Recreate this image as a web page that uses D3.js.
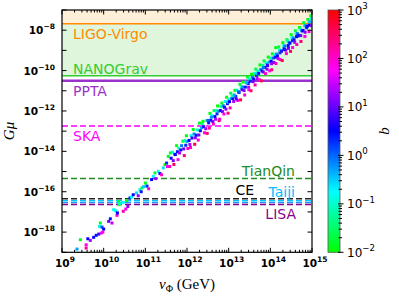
<!DOCTYPE html>
<html>
<head>
<meta charset="utf-8">
<script src="https://cdn.jsdelivr.net/npm/d3@7"></script>
<style>
  body { margin: 0; background: #fff; }
  svg { display: block; }
  text { font-family: "DejaVu Sans", sans-serif; }
</style>
</head>
<body>
<svg id="chart" width="399" height="299"></svg>
<script>
// tick exponents
const xExponents = [9, 10, 11, 12, 13, 14, 15];
const yExponents = [-18, -16, -14, -12, -10, -8];
const cbExponents = [-2, -1, 0, 1, 2, 3];

// detector sensitivities (G mu)
const detectorNames = ["LIGO-Virgo", "NANOGrav", "PPTA", "SKA", "TianQin", "CE", "Taiji", "Taiji", "LISA"];
const detectorGmu = [2.1e-8, 5.5e-11, 3.1e-11, 1.8e-13, 4.5e-16, 4.5e-17, 3.6e-17, 2.9e-17, 2.3e-17];

// scan points: [log10 v_Phi, log10 G mu, log10 b]
const points = [
  [9.36,-18.84,-0.3],[9.44,-18.38,-1.9],[9.58,-18.63,1.9],[9.58,-18.79,2.1],[9.62,-18.33,0.5],
  [9.68,-18.41,1.3],[9.76,-18.26,0.6],[9.82,-18.16,0.4],[9.88,-18.10,0.8],[9.90,-17.72,-0.9],
  [9.92,-17.55,-1.8],[9.96,-17.75,0.2],[9.98,-18.00,2.0],[9.94,-18.05,1.7],[10.00,-17.85,0.5],
  [10.12,-17.47,1.1],[10.16,-17.34,0.4],[10.20,-17.55,1.4],[10.24,-16.89,-0.8],[10.32,-17.17,1.9],
  [10.36,-16.48,-1.9],[10.29,-16.95,-0.9],[10.33,-17.05,0.6],[10.47,-16.97,2.2],[10.53,-16.86,1.8],
  [10.58,-16.73,1.2],[10.37,-16.64,-1.7],[10.39,-16.58,-1.0],[10.47,-16.53,-0.7],[10.55,-16.43,-1.9],
  [10.63,-16.31,0.3],[10.67,-16.26,-0.8],[10.71,-16.15,0.5],[10.79,-16.06,-0.6],[10.83,-16.20,1.3],
  [10.87,-15.90,-0.9],[10.90,-16.00,0.4],[10.92,-15.81,-1.8],[10.96,-15.75,-0.5],[11.00,-15.57,-1.9],
  [11.04,-15.72,0.3],[11.08,-15.85,1.9],[11.15,-15.40,0.5],[11.19,-15.24,-0.7],[11.23,-15.07,-1.8],
  [11.25,-15.35,1.3],[11.31,-14.99,-0.8],[11.35,-15.10,0.4],[11.39,-15.16,2.0],[11.43,-14.82,-0.6],
  [11.47,-14.66,-1.9],[11.51,-14.58,0.3],[11.53,-14.75,1.8],[11.55,-14.25,-1.8],
  [11.60,-14.08,-1.8],[11.62,-14.34,0.6],[11.585,-14.75,2.0],[11.65,-14.05,-0.9],[11.67,-14.46,1.1],
  [11.70,-14.14,-0.3],[11.72,-14.16,0.5],[11.685,-14.65,2.6],[11.75,-13.72,-1.9],[11.77,-14.02,0.4],
  [11.80,-13.84,-1.0],[11.82,-14.08,1.3],[11.785,-14.41,1.8],[11.85,-13.93,0.6],[11.87,-13.72,-0.1],
  [11.90,-13.50,-1.7],[11.92,-13.88,1.0],[11.95,-13.47,-1.1],[11.97,-13.70,0.3],[11.935,-14.21,2.4],
  [12.00,-13.52,-0.4],[12.02,-13.86,2.1],[11.985,-13.23,-2.0],[12.05,-13.46,0.5],[12.07,-13.66,1.4],
  [12.10,-13.22,-0.8],[12.12,-13.34,0.7],[12.085,-13.81,1.9],[12.15,-12.92,-1.9],[12.17,-13.14,-0.2],
  [12.20,-13.33,1.2],[12.22,-13.20,0.4],[12.185,-13.65,2.7],[12.25,-12.94,-1.0],[12.27,-13.44,2.0],
  [12.30,-12.60,-1.8],[12.32,-12.98,0.5],[12.285,-13.19,1.1],[12.35,-12.83,-0.3],[12.37,-12.64,-1.2],
  [12.40,-12.78,0.6],[12.42,-13.08,1.8],[12.385,-12.51,-2.0],[12.45,-12.88,1.3],[12.47,-12.48,-0.9],
  [12.50,-12.47,0.0],[12.52,-12.59,0.4],[12.485,-13.11,2.5],[12.55,-12.12,-1.9],[12.57,-12.46,0.7],
  [12.535,-12.85,2.2],[12.60,-12.24,-0.7],[12.62,-12.53,1.0],[12.585,-12.31,-0.2],
  [12.65,-11.98,-1.7],[12.67,-12.28,0.5],[12.635,-12.65,1.9],[12.70,-11.97,-1.0],[12.72,-12.14,0.3],
  [12.685,-12.41,1.4],[12.75,-12.02,-0.3],[12.77,-12.48,2.6],[12.735,-11.75,-2.0],[12.80,-11.98,0.6],
  [12.82,-11.79,-1.1],[12.785,-12.41,2.0],[12.85,-12.03,1.1],[12.87,-11.74,-0.1],[12.835,-11.61,-1.8],
  [12.90,-11.82,0.4],[12.92,-11.53,-0.8],[12.885,-12.15,1.8],[12.95,-11.32,-1.9],[12.97,-11.64,0.7],
  [12.935,-11.91,1.2],[12.98,-11.56,-0.4],[13.00,-11.42,-1.0],[13.02,-11.54,0.5],[12.985,-12.11,2.4],
  [13.05,-11.12,-1.7],[13.07,-11.38,-0.2],[13.035,-11.85,2.1],[13.10,-11.38,0.6],[13.12,-11.53,1.3],
  [13.085,-11.26,-1.2],[13.15,-10.98,-2.0],[13.17,-11.28,0.3],[13.135,-11.21,-0.3],[13.20,-10.97,-0.9],
  [13.22,-11.48,1.9],[13.185,-11.41,1.0],[13.25,-11.08,0.5],[13.27,-10.68,-1.8],[13.235,-11.05,0.0],
  [13.30,-10.83,-1.0],[13.32,-10.94,0.8],[13.285,-11.45,2.7],[13.35,-10.57,-1.9],[13.37,-10.99,1.2],
  [13.335,-10.81,-0.2],[13.40,-10.82,0.4],[13.42,-10.58,-0.8],[13.385,-11.21,2.0],[13.45,-10.32,-1.8],
  [13.47,-10.64,0.6],[13.435,-10.61,-0.3],[13.48,-10.82,1.4],[13.50,-10.42,-1.1],[13.52,-10.53,0.3],
  [13.485,-10.95,1.8],[13.55,-10.18,-2.0],[13.57,-10.33,-0.1],[13.535,-11.00,2.5],[13.60,-10.42,0.5],
  [13.62,-10.14,-0.9],[13.585,-10.55,1.1],[13.65,-9.93,-1.7],[13.67,-10.24,0.7],[13.635,-10.71,2.2],
  [13.68,-10.16,-0.4],[13.70,-10.03,-1.0],[13.72,-10.14,0.4],[13.685,-10.40,1.3],[13.75,-9.72,-1.9],
  [13.77,-9.94,-0.2],[13.735,-10.45,1.9],[13.80,-10.02,0.5],[13.82,-9.74,-1.2],[13.785,-10.51,2.6],
  [13.83,-10.07,1.0],[13.85,-9.52,-1.8],[13.87,-9.84,0.6],[13.835,-9.85,-0.1],[13.90,-9.63,-0.9],
  [13.92,-9.93,1.2],[13.885,-10.15,2.0],[13.93,-9.72,0.3],[13.95,-9.33,-2.0],[13.97,-9.58,-0.3],
  [13.935,-9.75,0.8],[14.00,-9.38,-1.1],[14.02,-9.54,0.5],[13.985,-10.01,1.8],[14.03,-9.66,1.3],
  [14.05,-9.17,-1.8],[14.07,-9.38,0.0],[14.035,-9.96,2.4],[14.10,-9.22,-0.8],[14.12,-9.34,0.4],
  [14.085,-9.60,1.1],[14.13,-8.86,-1.9],[14.15,-9.18,-0.2],[14.17,-9.28,0.6],[14.135,-9.65,2.1],
  [14.20,-8.83,-1.7],[14.22,-8.98,-1.0],[14.185,-9.40,1.4],[14.23,-9.12,0.3],[14.25,-9.03,-0.4],
  [14.27,-9.04,0.7],[14.235,-9.45,1.9],[14.30,-8.62,-2.0],[14.32,-8.78,-0.9],[14.285,-9.50,2.6],
  [14.33,-8.92,0.5],[14.35,-8.78,-0.1],[14.37,-8.99,1.2],[14.335,-8.95,0.4],[14.40,-8.47,-1.8],
  [14.42,-8.54,-1.1],[14.385,-9.16,2.0],[14.43,-8.76,0.6],[14.45,-8.62,-0.3],[14.47,-8.64,0.5],
  [14.435,-8.90,1.0],[14.50,-8.22,-1.9],[14.52,-8.38,-0.8],[14.485,-9.05,2.5],[14.53,-8.52,0.3],
  [14.55,-8.38,-0.2],[14.57,-8.48,0.7],[14.535,-8.86,1.8],[14.60,-8.03,-1.7],[14.62,-8.18,-1.0],
  [14.585,-8.60,1.3],[14.63,-8.32,0.5],[14.65,-8.17,-0.1],[14.67,-8.28,0.6],[14.635,-8.71,2.1],
  [14.70,-7.87,-2.0],[14.72,-7.94,-0.9],[14.685,-8.25,0.4],[14.73,-8.27,1.1],[14.75,-8.02,-0.3],
  [14.77,-8.04,0.8],[14.735,-8.56,2.4],[14.80,-7.63,-1.8],[14.82,-7.78,-1.1],[14.785,-8.01,0.5],
  [14.83,-8.31,1.9],[14.85,-7.78,-0.2],[14.87,-7.88,0.3],[14.835,-8.10,1.2],[14.90,-7.47,-1.9],
  [14.92,-7.58,-0.8],[14.885,-7.81,0.6],[14.93,-8.07,2.0],[14.95,-7.58,-0.4],[14.97,-7.28,-1.7],
  [14.935,-7.75,0.5],[14.98,-7.42,-1.0],[14.99,-7.78,1.3]
];

const plot = {left: 62, right: 312, top: 10, bottom: 252.3};
const svg = d3.select("#chart");

const xScale = d3.scaleLog().domain([1e9, 1e15]).range([plot.left, plot.right]);
const yScale = d3.scaleLog().domain([1e-19, 1e-7]).range([plot.bottom, plot.top]);

// colour map: green -> cyan -> blue -> magenta -> red
const cmap = f => d3.hsl(120 + 240 * Math.max(0, Math.min(1, f)), 1, 0.5).toString();
const bColor = lb => cmap((lb + 2) / 5);

svg.append("clipPath").attr("id", "clip")
  .append("rect")
  .attr("x", plot.left).attr("y", plot.top)
  .attr("width", plot.right - plot.left).attr("height", plot.bottom - plot.top);

const g = svg.append("g").attr("clip-path", "url(#clip)");

// shaded excluded regions
const yLigo = yScale(detectorGmu[0]), yNano = yScale(detectorGmu[1]);
g.append("rect")
  .attr("x", plot.left).attr("y", plot.top)
  .attr("width", plot.right - plot.left).attr("height", yLigo - plot.top)
  .attr("fill", "#fdefd8");
g.append("rect")
  .attr("x", plot.left).attr("y", yLigo)
  .attr("width", plot.right - plot.left).attr("height", yNano - yLigo)
  .attr("fill", "#dff5dc");

// detector lines
const lineStyle = [
  {color: "#ff8c00", width: 1.5, dash: null},
  {color: "#32cd32", width: 1.5, dash: null},
  {color: "#9932cc", width: 2.5, dash: null},
  {color: "#ff00ff", width: 1.5, dash: "6,3"},
  {color: "#228b22", width: 1.5, dash: "6,3"},
  {color: "#222222", width: 1.5, dash: "6,3"},
  {color: "#00bfff", width: 1.5, dash: "6,3"},
  {color: "#1e90ff", width: 1.2, dash: "6,3"},
  {color: "#8b008b", width: 1.5, dash: "6,3"}
];
detectorGmu.forEach((v, i) => {
  const s = lineStyle[i];
  g.append("line")
    .attr("x1", plot.left).attr("x2", plot.right)
    .attr("y1", yScale(v)).attr("y2", yScale(v))
    .attr("stroke", s.color).attr("stroke-width", s.width)
    .attr("stroke-dasharray", s.dash);
});

// scatter
g.selectAll("rect.pt")
  .data(points)
  .enter().append("rect")
  .attr("class", "pt")
  .attr("x", d => xScale(Math.pow(10, d[0])) - 1.5)
  .attr("y", d => yScale(Math.pow(10, d[1])) - 1.5)
  .attr("width", 3).attr("height", 3)
  .attr("fill", d => bColor(d[2]));

// detector labels
const labels = [
  {i: 0, x: 73, dy: 15.2, anchor: "start"},
  {i: 1, x: 73, dy: -1.8, anchor: "start"},
  {i: 2, x: 73, dy: 14.8, anchor: "start"},
  {i: 3, x: 73, dy: 14.8, anchor: "start"},
  {i: 4, x: 295, dy: -2.8, anchor: "end"},
  {i: 5, x: 254, dy: -4, anchor: "end"},
  {i: 6, x: 295, dy: -4, anchor: "end"},
  {i: 8, x: 296, dy: 14.5, anchor: "end"}
];
labels.forEach(l => {
  svg.append("text")
    .attr("x", l.x).attr("y", yScale(detectorGmu[l.i]) + l.dy)
    .attr("text-anchor", l.anchor)
    .attr("font-size", 14)
    .attr("fill", l.i === 5 ? "#000" : lineStyle[l.i].color)
    .text(detectorNames[l.i]);
});

// superscript power-of-ten label
function powText(sel, e, size) {
  sel.append("tspan").text("10");
  sel.append("tspan").attr("dy", -size * 0.45).attr("font-size", size * 0.72)
    .text(e < 0 ? "\u2212" + (-e) : e);
}

// axes frame and ticks
const ax = svg.append("g").attr("stroke", "#000");
for (let e = 9; e <= 15; e++) {
  const x = xScale(Math.pow(10, e));
  ax.append("line").attr("x1", x).attr("x2", x).attr("y1", plot.bottom).attr("y2", plot.bottom - 4.5);
  ax.append("line").attr("x1", x).attr("x2", x).attr("y1", plot.top).attr("y2", plot.top + 4.5);
  if (e < 15) for (let k = 2; k <= 9; k++) {
    const xm = xScale(k * Math.pow(10, e));
    ax.append("line").attr("x1", xm).attr("x2", xm).attr("y1", plot.bottom).attr("y2", plot.bottom - 2.5);
    ax.append("line").attr("x1", xm).attr("x2", xm).attr("y1", plot.top).attr("y2", plot.top + 2.5);
  }
}
for (let e = -19; e <= -7; e++) {
  const y = yScale(Math.pow(10, e));
  ax.append("line").attr("x1", plot.left).attr("x2", plot.left + 4.5).attr("y1", y).attr("y2", y);
  ax.append("line").attr("x1", plot.right).attr("x2", plot.right - 4.5).attr("y1", y).attr("y2", y);
}
svg.append("rect")
  .attr("x", plot.left).attr("y", plot.top)
  .attr("width", plot.right - plot.left).attr("height", plot.bottom - plot.top)
  .attr("fill", "none").attr("stroke", "#000").attr("stroke-width", 1.2);

xExponents.forEach(e => {
  const t = svg.append("text")
    .attr("x", xScale(Math.pow(10, e)) + 3).attr("y", 266.5)
    .attr("text-anchor", "middle").attr("font-size", 10.5).attr("font-weight", "bold");
  powText(t, e, 10.5);
});
yExponents.forEach(e => {
  const t = svg.append("text")
    .attr("x", 55).attr("y", yScale(Math.pow(10, e)) + 4)
    .attr("text-anchor", "end").attr("font-size", 10.5).attr("font-weight", "bold");
  powText(t, e, 10.5);
});

// axis titles
const xt = svg.append("text")
  .attr("x", 187).attr("y", 289)
  .attr("text-anchor", "middle")
  .style("font-family", "'Liberation Serif', serif").attr("font-size", 15);
xt.append("tspan").attr("font-style", "italic").text("v");
xt.append("tspan").attr("font-size", 10).attr("dy", 3).text("\u03A6");
xt.append("tspan").attr("dy", -3).text(" (GeV)");

svg.append("text")
  .attr("transform", "translate(14,131) rotate(-90)")
  .attr("text-anchor", "middle")
  .style("font-family", "'Liberation Serif', serif").attr("font-size", 15)
  .attr("font-style", "italic")
  .text("G\u03BC");

// colour bar
const cb = {x: 328, w: 12};
const cbScale = d3.scaleLog().domain([1e-2, 1e3]).range([plot.bottom, plot.top]);
const grad = svg.append("defs").append("linearGradient")
  .attr("id", "cbgrad").attr("x1", 0).attr("y1", 1).attr("x2", 0).attr("y2", 0);
d3.range(0, 1.0001, 0.05).forEach(f => {
  grad.append("stop").attr("offset", f).attr("stop-color", cmap(f));
});
svg.append("rect")
  .attr("x", cb.x).attr("y", plot.top)
  .attr("width", cb.w).attr("height", plot.bottom - plot.top)
  .attr("fill", "url(#cbgrad)")
  .attr("stroke", "#555").attr("stroke-width", 0.8);
const cbAx = svg.append("g").attr("stroke", "#000");
for (let e = -2; e <= 3; e++) {
  const y = cbScale(Math.pow(10, e));
  cbAx.append("line").attr("x1", cb.x + cb.w - 2).attr("x2", cb.x + cb.w + 3.5).attr("y1", y).attr("y2", y);
  if (e < 3) for (let k = 2; k <= 9; k++) {
    const ym = cbScale(k * Math.pow(10, e));
    cbAx.append("line").attr("x1", cb.x + cb.w - 1.5).attr("x2", cb.x + cb.w + 2).attr("y1", ym).attr("y2", ym);
  }
}
cbExponents.forEach(e => {
  const t = svg.append("text")
    .attr("x", 347).attr("y", cbScale(Math.pow(10, e)) + 4.5)
    .attr("font-size", 12);
  powText(t, e, 12);
});
svg.append("text")
  .attr("transform", "translate(389,131) rotate(-90)")
  .attr("text-anchor", "middle")
  .style("font-family", "'Liberation Serif', serif").attr("font-size", 15)
  .attr("font-style", "italic")
  .text("b");
</script>
</body>
</html>
